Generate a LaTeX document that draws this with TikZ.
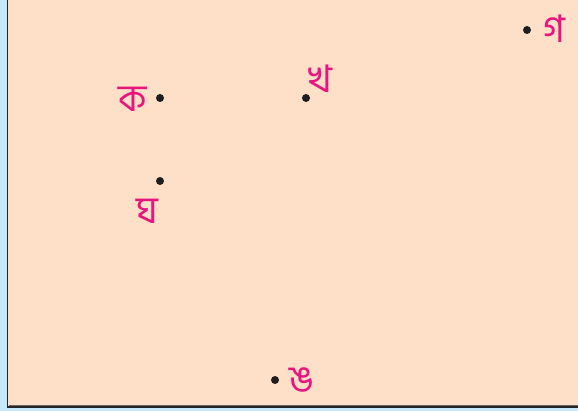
\documentclass[tikz,border=0pt]{standalone}
\usepackage{fontspec}
\newfontfamily\bengali[Script=Bengali]{Hind Siliguri}
\definecolor{bgblue}{HTML}{C6E9FA}
\definecolor{peach}{HTML}{FEE0C8}
\definecolor{pinklbl}{HTML}{E8157F}
\definecolor{dotc}{HTML}{1E1E1E}
\tikzset{
  pt/.style={circle,fill=dotc,inner sep=0pt,minimum size=8pt},
  lbl/.style={text=pinklbl,font=\bengali\fontsize{38}{38}\selectfont,inner sep=0pt}
}
\begin{document}
\begin{tikzpicture}[x=1pt,y=-1pt]
\useasboundingbox (0,0) rectangle (578,411);
\fill[bgblue] (0,0) rectangle (578,411);
\fill[peach] (7,-2) rectangle (580,407);
\draw[gray!80!black,line width=1pt] (9,405.5) -- (580,405.5);
\draw[black!85,line width=1.8pt] (7.5,-2) -- (7.5,407) -- (580,407);
\node[pt] (ka) at (160,98) {};
\node[pt] (kha) at (306,98) {};
\node[pt] (ga) at (527,30) {};
\node[pt] (gha) at (160,181) {};
\node[pt] (nga) at (275,380) {};
\node[lbl] (lka) at (133,99) {ক};
\node[lbl] (lkha) at (320,79) {খ};
\node[lbl] (lga) at (554,29) {গ};
\node[lbl] (lgha) at (147,211) {ঘ};
\node[lbl] (lnga) at (302,380) {ঙ};
\end{tikzpicture}
\end{document}
